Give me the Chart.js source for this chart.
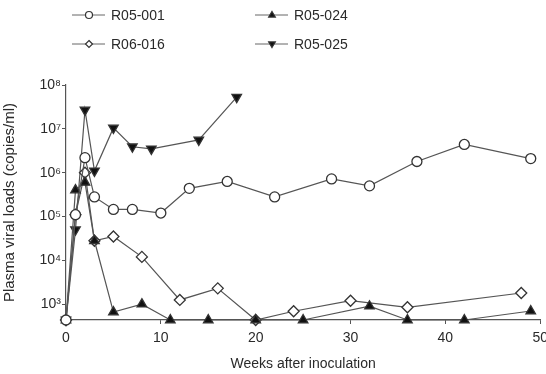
<!DOCTYPE html>
<html><head><meta charset="utf-8">
<script src="https://cdn.jsdelivr.net/npm/chart.js@4/dist/chart.umd.min.js"></script>
<style>html,body{margin:0;padding:0;background:#fff;overflow:hidden}#wrap{width:556px;height:374px}</style>
</head><body><div id="wrap"><canvas id="c" width="554" height="374"></canvas></div>
<script>
// Below-detection value (plotted on the x axis)
const BL = 436;
const yTickValues = [1e3, 1e4, 1e5, 1e6, 1e7, 1e8];
const yTickLabels = ['10³', '10⁴', '10⁵', '10⁶', '10⁷', '10⁸'];
const xTickValues = [0, 10, 20, 30, 40, 50];

const seriesNames = ['R05-001', 'R05-024', 'R06-016', 'R05-025'];

const weeksR05_001 = [0, 1, 2, 3, 5, 7, 10, 13, 17, 22, 28, 32, 37, 42, 49];
const loadsR05_001 = [BL, 1.1e5, 2.2e6, 2.8e5, 1.45e5, 1.45e5, 1.2e5, 4.4e5, 6.3e5, 2.8e5, 7.2e5, 5e5, 1.8e6, 4.4e6, 2.1e6];

const weeksR05_024 = [0, 1, 2, 3, 5, 8, 11, 15, 20, 25, 32, 36, 42, 49];
const loadsR05_024 = [BL, 4e5, 6e5, 2.8e4, 660, 1000, BL, BL, BL, BL, 900, BL, BL, 700];

const weeksR06_016 = [0, 1, 2, 3, 5, 8, 12, 16, 20, 24, 30, 36, 48];
const loadsR06_016 = [BL, 1.1e5, 1e6, 2.8e4, 3.5e4, 1.2e4, 1250, 2300, BL, 690, 1200, 850, 1800];

const weeksR05_025 = [0, 1, 2, 3, 5, 7, 9, 14, 18];
const loadsR05_025 = [BL, 5e4, 2.7e7, 1.1e6, 1.05e7, 3.9e6, 3.5e6, 5.6e6, 5.3e7];

const pts = (w, v) => w.map((x, i) => ({x: x, y: v[i]}));
const FONT = '"Liberation Sans", Arial, Helvetica, sans-serif';
const LINE = '#555';
const TXT = '#2a2a2a';

const styles = [
  {pointStyle: 'circle', pointRadius: 5, pointBackgroundColor: '#fff', rot: 0},
  {pointStyle: 'triangle', pointRadius: 5.5, pointBackgroundColor: '#111', rot: 0},
  {pointStyle: 'rectRot', pointRadius: 5.5, pointBackgroundColor: '#fff', rot: 0},
  {pointStyle: 'triangle', pointRadius: 5.5, pointBackgroundColor: '#111', rot: 180}
];
const dataSets = [pts(weeksR05_001, loadsR05_001), pts(weeksR05_024, loadsR05_024), pts(weeksR06_016, loadsR06_016), pts(weeksR05_025, loadsR05_025)];

const datasets = seriesNames.map((name, i) => ({
  label: name,
  data: dataSets[i],
  borderColor: LINE,
  borderWidth: 1.2,
  pointStyle: styles[i].pointStyle,
  pointRadius: styles[i].pointRadius,
  pointRotation: styles[i].rot,
  pointBackgroundColor: styles[i].pointBackgroundColor,
  pointBorderColor: '#333',
  pointBorderWidth: 1.3,
  showLine: true,
  fill: false,
  tension: 0,
  clip: false
}));

function drawMarker(ctx, style, x, y, r, fill) {
  ctx.save();
  ctx.fillStyle = fill; ctx.strokeStyle = '#333'; ctx.lineWidth = 1.2;
  ctx.beginPath();
  if (style.pointStyle === 'circle') {
    ctx.arc(x, y, r, 0, Math.PI * 2);
  } else if (style.pointStyle === 'rectRot') {
    ctx.moveTo(x, y - r); ctx.lineTo(x + r, y); ctx.lineTo(x, y + r); ctx.lineTo(x - r, y); ctx.closePath();
  } else {
    const s = style.rot === 180 ? -1 : 1;
    ctx.moveTo(x, y - s * r); ctx.lineTo(x + r * 0.95, y + s * r * 0.6); ctx.lineTo(x - r * 0.95, y + s * r * 0.6); ctx.closePath();
  }
  ctx.fill(); ctx.stroke();
  ctx.restore();
}

const legendPlugin = {
  id: 'gridLegend',
  afterDraw(chart) {
    const ctx = chart.ctx;
    const cols = [72, 255];
    const rows = [15, 44];
    chart.data.datasets.forEach((ds, i) => {
      const x0 = cols[i % 2], y = rows[Math.floor(i / 2)];
      ctx.save();
      ctx.strokeStyle = '#666'; ctx.lineWidth = 1;
      ctx.beginPath(); ctx.moveTo(x0, y); ctx.lineTo(x0 + 33, y); ctx.stroke();
      drawMarker(ctx, styles[i], x0 + 17, y, 3.5, styles[i].pointBackgroundColor);
      ctx.fillStyle = TXT; ctx.font = '14px ' + FONT; ctx.textBaseline = 'middle'; ctx.textAlign = 'left';
      ctx.fillText(ds.label, x0 + 39, y + 1);
      ctx.restore();
    });
  }
};

new Chart(document.getElementById('c'), {
  type: 'line',
  data: {datasets: datasets},
  plugins: [legendPlugin],
  options: {
    responsive: false,
    animation: false,
    layout: {padding: {top: 85, left: 0, right: 0, bottom: 0}},
    plugins: {legend: {display: false}, tooltip: {enabled: false}},
    scales: {
      x: {
        type: 'linear', min: 0, max: 50,
        afterBuildTicks: s => { s.ticks = xTickValues.map(v => ({value: v})); },
        afterFit: s => { s.height = 54; },
        grid: {drawOnChartArea: false, drawTicks: true, tickLength: 4, color: LINE},
        border: {display: true, color: LINE, width: 1.2},
        ticks: {color: TXT, font: {family: FONT, size: 14}, padding: 6, maxRotation: 0},
        title: {display: true, text: 'Weeks after inoculation', color: TXT, font: {family: FONT, size: 14}, padding: {top: 2, bottom: 1}}
      },
      y: {
        type: 'logarithmic', min: BL, max: 1e8,
        afterBuildTicks: s => { s.ticks = yTickValues.map(v => ({value: v})); },
        afterFit: s => { s.width = 66; },
        grid: {drawOnChartArea: false, drawTicks: true, tickLength: 4, color: LINE},
        border: {display: true, color: LINE, width: 1.2},
        ticks: {color: TXT, font: {family: FONT, size: 14}, padding: 1,
          callback: (v) => { const k = yTickValues.indexOf(v); return k >= 0 ? yTickLabels[k] : ''; }},
        title: {display: true, text: 'Plasma viral loads (copies/ml)', color: TXT, font: {family: FONT, size: 15}, padding: {top: 1, bottom: 2}}
      }
    }
  }
});
</script></body></html>
